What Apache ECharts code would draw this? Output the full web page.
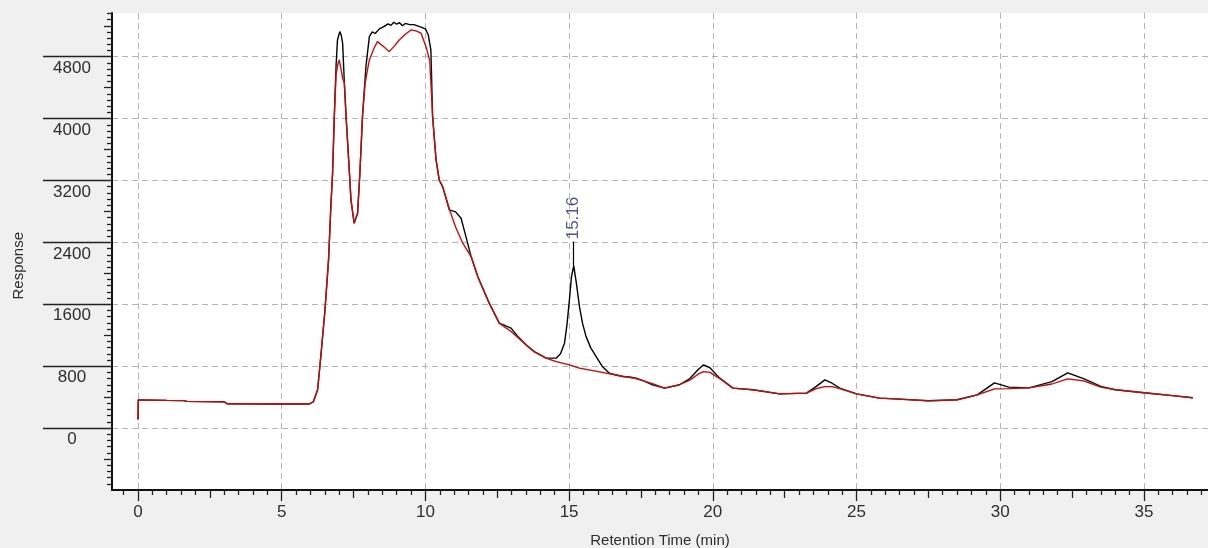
<!DOCTYPE html>
<html>
<head>
<meta charset="utf-8">
<script src="https://cdn.jsdelivr.net/npm/echarts@6/dist/echarts.min.js"></script>
<style>
  html, body { margin: 0; padding: 0; background: #f0f0f0; }
  #chart { width: 1208px; height: 548px; }
</style>
</head>
<body>
<div id="chart"></div>
<script>
// Sample chromatogram (black trace): retention time (min) and detector response
const sampleTimes = [
  0, 0.01, 0.5, 1.0, 1.6, 1.7, 3.0, 3.1, 4.5, 5.96, 6.1, 6.25, 6.36, 6.5, 6.63, 6.71, 6.77, 6.83, 6.89, 6.94,
  7.02, 7.07, 7.12, 7.18, 7.24, 7.33, 7.41, 7.52, 7.64, 7.72, 7.81, 7.93, 8.05, 8.15, 8.25, 8.4, 8.55, 8.7,
  8.8, 8.9, 9.0, 9.1, 9.2, 9.3, 9.45, 9.6, 9.8, 10.0, 10.1, 10.19, 10.25, 10.37, 10.48, 10.6, 10.83, 11.05,
  11.24, 11.41, 11.59, 11.82, 12.22, 12.57, 12.8, 12.98, 13.2, 13.5, 13.8, 14.2, 14.55, 14.7, 14.84, 14.93,
  15.01, 15.08, 15.16, 15.25, 15.36, 15.47, 15.59, 15.75, 15.94, 16.15, 16.4, 16.6, 16.86, 17.1, 17.33, 17.6,
  17.9, 18.32, 18.84, 19.2, 19.5, 19.68, 19.9, 20.24, 20.7, 21.4, 22.33, 23.26, 23.6, 23.9, 24.15, 24.42,
  25.0, 25.8, 26.5, 27.5, 28.5, 29.2, 29.8, 30.3, 31.0, 31.8, 32.35, 32.9, 33.5, 34.0, 35.0, 36.0, 36.7
];
const sampleResponse = [
  110, 365, 362, 358, 355, 345, 340, 315, 312, 312, 340, 495, 925, 1500, 2174, 2863, 3294, 4026, 4671, 5016,
  5124, 5080, 4974, 4457, 4026, 3466, 2950, 2648, 2777, 3294, 4026, 4671, 5059, 5120, 5100, 5160, 5190, 5225,
  5205, 5245, 5220, 5240, 5200, 5230, 5215, 5215, 5190, 5160, 5080, 4887, 4030, 3470, 3207, 3121, 2820, 2795,
  2713, 2475, 2217, 1959, 1615, 1357, 1320, 1292, 1190, 1076, 985, 904, 904, 960, 1098, 1350,
  1658, 1950, 2100, 1880, 1571, 1350, 1183, 1040, 925, 800, 710, 690, 667, 660, 646, 610,
  560, 517, 560, 640, 760, 818, 780, 646, 517, 495, 443, 452, 540, 624, 580, 517,
  443, 388, 375, 353, 366, 430, 585, 530, 520, 600, 714, 640, 540, 496, 457, 420, 392
];

// Fitted baseline / reference trace (red)
const baselineTimes = [
  0, 0.01, 0.5, 1.0, 1.6, 1.7, 3.0, 3.1, 4.5, 5.96, 6.1, 6.25, 6.36, 6.5, 6.63, 6.71, 6.77, 6.83, 6.89, 6.95,
  7.0, 7.06, 7.12, 7.18, 7.24, 7.33, 7.41, 7.52, 7.64, 7.72, 7.81, 7.9, 7.97, 8.05, 8.2, 8.33, 8.55, 8.74,
  8.9, 9.09, 9.3, 9.5, 9.7, 9.85, 10.02, 10.15, 10.25, 10.37, 10.48, 10.6, 10.87, 11.05, 11.3, 11.59, 11.82,
  12.22, 12.57, 12.98, 13.5, 13.8, 14.2, 14.55, 15.01, 15.36, 16.29, 16.86, 17.33, 17.9, 18.32, 18.84, 19.2,
  19.5, 19.68, 19.9, 20.24, 20.7, 21.4, 22.33, 23.26, 23.6, 23.9, 24.15, 24.42, 25.0, 25.8, 26.5, 27.5,
  28.5, 29.2, 29.8, 30.3, 31.0, 31.8, 32.35, 32.9, 33.5, 34.0, 35.0, 36.0, 36.7
];
const baselineResponse = [
  110, 365, 362, 358, 355, 345, 340, 315, 312, 312, 340, 495, 925, 1500, 2174, 2863, 3294, 4026, 4560, 4700,
  4758, 4650, 4520, 4457, 4026, 3466, 2950, 2648, 2777, 3294, 4026, 4450, 4600, 4758, 4900, 4995, 4930, 4866,
  4930, 5016, 5090, 5146, 5130, 5102, 4930, 4750, 4030, 3470, 3207, 3121, 2790, 2600, 2390, 2217, 1959,
  1615, 1357, 1248, 1076, 985, 904, 860, 818, 775, 710, 670, 640, 575, 517, 560, 620,
  700, 731, 720, 640, 517, 495, 443, 452, 510, 537, 535, 510, 443, 388, 375, 353,
  366, 430, 508, 510, 520, 570, 637, 610, 530, 496, 457, 420, 392
];

// Axis scales and tick positions
const timeRange = [-0.905, 37.23];
const responseRange = [-800, 5365];
const timeMajorTicks = [0, 5, 10, 15, 20, 25, 30, 35];
const timeMidTicks = [2.5, 7.5, 12.5, 17.5, 22.5, 27.5, 32.5];
const timeMinorTicks = [-0.5, 0.5, 1, 1.5, 2, 3, 3.5, 4, 4.5, 5.5, 6, 6.5, 7, 8, 8.5, 9, 9.5, 10.5, 11, 11.5,
  12, 13, 13.5, 14, 14.5, 15.5, 16, 16.5, 17, 18, 18.5, 19, 19.5, 20.5, 21, 21.5, 22, 23, 23.5, 24, 24.5,
  25.5, 26, 26.5, 27, 28, 28.5, 29, 29.5, 30.5, 31, 31.5, 32, 33, 33.5, 34, 34.5, 35.5, 36, 36.5, 37];
const responseMajorTicks = [0, 800, 1600, 2400, 3200, 4000, 4800];
const responseMidTicks = [-400, 400, 1200, 2000, 2800, 3600, 4400, 5200];
const responseMinorTicks = [-720, -640, -560, -480, -320, -240, -160, -80, 80, 160, 240, 320, 480, 560, 640, 720,
  880, 960, 1040, 1120, 1280, 1360, 1440, 1520, 1680, 1760, 1840, 1920, 2080, 2160, 2240, 2320, 2480, 2560,
  2640, 2720, 2880, 2960, 3040, 3120, 3280, 3360, 3440, 3520, 3680, 3760, 3840, 3920, 4080, 4160, 4240, 4320,
  4480, 4560, 4640, 4720, 4880, 4960, 5040, 5120, 5280, 5360];

// Annotated peak
const peakTime = 15.16;
const peakResponse = 2100;
const peakMarkerTop = 2410;
const peakLabelBase = 2440;
const peakLabel = '15.16';

const FONT = '"Liberation Sans", Arial, sans-serif';
const TEXT_COLOR = '#2e2e2e';
// Fixed plot rectangle; labels and names are allowed to sit at the canvas edge
const grid = {
  left: 112, top: 13, right: 0, bottom: 58, show: true, backgroundColor: '#ffffff', borderWidth: 0,
  containLabel: false, outerBoundsMode: 'none'
};
const gridDash = { type: [6, 4], color: '#b4b4b4', width: 1 };
const plainNumber = v => String(v);

function timeAxis(ticks, len, showLine, showLabel, showSplit) {
  return {
    type: 'value', position: 'bottom', min: timeRange[0], max: timeRange[1],
    axisLine: { show: showLine, onZero: false, lineStyle: { color: '#111', width: 2 } },
    axisTick: { show: true, customValues: ticks, length: len, lineStyle: { color: '#222', width: 1.3 } },
    axisLabel: showLabel ? {
      show: true, customValues: ticks, margin: 14, formatter: plainNumber,
      fontFamily: FONT, fontSize: 17, color: TEXT_COLOR
    } : { show: false },
    splitLine: { show: showSplit, lineStyle: gridDash }
  };
}
function responseAxis(ticks, len, showLine, showLabel, showSplit) {
  return {
    type: 'value', position: 'left', min: responseRange[0], max: responseRange[1],
    axisLine: { show: showLine, onZero: false, lineStyle: { color: '#111', width: 2 } },
    axisTick: { show: true, customValues: ticks, length: len, lineStyle: { color: '#222', width: 1.3 } },
    axisLabel: showLabel ? {
      show: true, customValues: ticks, margin: 40, align: 'center', verticalAlign: 'top',
      padding: [3, 0, 0, 0], formatter: plainNumber,
      fontFamily: FONT, fontSize: 17, color: TEXT_COLOR
    } : { show: false },
    splitLine: { show: showSplit, lineStyle: gridDash }
  };
}

const xAxes = [
  Object.assign(timeAxis(timeMajorTicks, 11, true, true, true), {
    name: 'Retention Time (min)', nameLocation: 'middle', nameGap: 43,
    nameTextStyle: { fontFamily: FONT, fontSize: 15, color: TEXT_COLOR }
  }),
  timeAxis(timeMidTicks, 8, false, false, false),
  timeAxis(timeMinorTicks, 5, false, false, false)
];
const yAxes = [
  responseAxis(responseMajorTicks, 69, true, true, true),
  responseAxis(responseMidTicks, 8, false, false, false),
  responseAxis(responseMinorTicks, 5, false, false, false)
];

const zip = (xs, ys) => xs.map((x, i) => [x, ys[i]]);

const chart = echarts.init(document.getElementById('chart'), null, { renderer: 'canvas' });
chart.setOption({
  animation: false,
  backgroundColor: '#f0f0f0',
  grid: grid,
  xAxis: xAxes,
  yAxis: yAxes,
  graphic: [{
    type: 'text', left: 11, top: 232, rotation: Math.PI / 2,
    style: { text: 'Response', font: '15px ' + FONT, fill: TEXT_COLOR }
  }],
  series: [
    {
      type: 'line', name: 'sample', data: zip(sampleTimes, sampleResponse),
      showSymbol: false, symbol: 'none', smooth: false,
      lineStyle: { color: '#000000', width: 1.4 },
      markLine: {
        silent: true, symbol: 'none', label: { show: false },
        lineStyle: { color: '#000', type: 'solid', width: 1.2 },
        data: [[{ coord: [peakTime, peakResponse] }, { coord: [peakTime, peakMarkerTop] }]]
      },
      z: 3
    },
    {
      type: 'line', name: 'baseline', data: zip(baselineTimes, baselineResponse),
      showSymbol: false, symbol: 'none', smooth: false,
      lineStyle: { color: '#8a2424', width: 1.3, shadowColor: 'rgba(240,120,120,0.5)', shadowBlur: 3 },
      z: 4
    },
    {
      type: 'scatter', name: 'peak label', data: [[peakTime, peakLabelBase]],
      symbolSize: 0, silent: true,
      label: {
        show: true, position: 'inside', rotate: 90, align: 'left', verticalAlign: 'middle',
        formatter: peakLabel, fontFamily: FONT, fontSize: 17, color: '#2b2b66'
      },
      z: 5
    }
  ]
});
</script>
</body>
</html>
